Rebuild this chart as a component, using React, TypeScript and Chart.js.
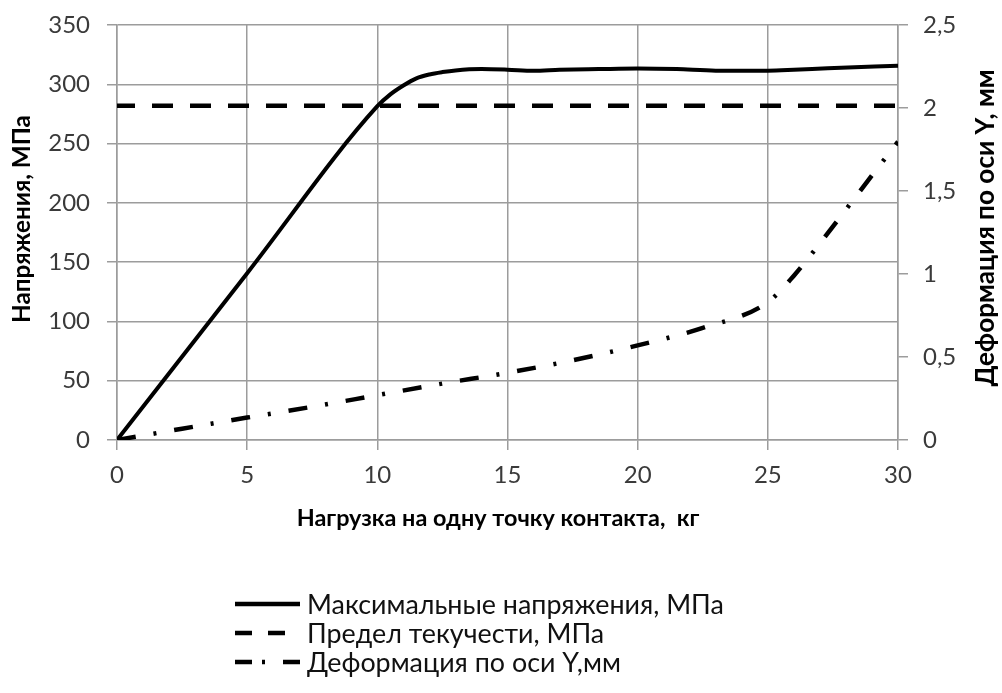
import React, { useEffect, useRef } from "react";
import { Chart, registerables } from "chart.js";

Chart.register(...registerables);

// ---- Data ----
const stressX = [0, 5, 10, 10.5, 11, 11.5, 12, 12.5, 13, 14, 15, 16, 17, 18.5, 20, 21.5, 23, 25, 26, 27.3, 30];
const stressY = [0, 140.7, 281.5, 291.5, 299, 305, 308.3, 310.3, 311.7, 312.8, 312.3, 311.4, 312.2, 312.8, 313.3, 312.8, 311.5, 311.5, 312.2, 313.5, 315.7];

const yieldX = [0, 30];
const yieldY = [282, 282];

const deformX = [0, 2.5, 5, 7.5, 10, 12.5, 15, 17.5, 20, 22.5, 25, 26, 27.2, 28.6, 30];
const deformY = [0, 0.068, 0.135, 0.2, 0.27, 0.34, 0.405, 0.48, 0.57, 0.675, 0.83, 0.99, 1.225, 1.512, 1.797];

const seriesNames = [
  "Максимальные напряжения, МПа",
  "Предел текучести, МПа",
  "Деформация по оси Y,мм",
];
const xTitle = "Нагрузка на одну точку контакта,  кг";
const yTitle = "Напряжения, МПа";
const y1Title = "Деформация по оси Y, мм";

const toPoints = (xs: number[], ys: number[]) => xs.map((x, i) => ({ x, y: ys[i] }));

const FONT = "Lato, 'Open Sans', sans-serif";
const GRID = "#9c9c9c";
const TICK_COLOR = "#3a3a3a";

const textPlugin = {
  id: "customText",
  afterDraw(chart: any) {
    const ctx: CanvasRenderingContext2D = chart.ctx;
    const fit = (text: string, weight: string, target: number) => {
      ctx.font = `${weight} 20px ${FONT}`;
      const w = ctx.measureText(text).width;
      return (20 * target) / w;
    };
    ctx.save();
    ctx.fillStyle = "#000";
    ctx.textAlign = "center";
    ctx.textBaseline = "middle";

    // x title
    let fs = fit(xTitle, "bold", 403);
    ctx.font = `bold ${fs}px ${FONT}`;
    ctx.fillText(xTitle, 498, 518);

    // left title
    fs = fit(yTitle, "bold", 208);
    ctx.save();
    ctx.translate(22, 219);
    ctx.rotate(-Math.PI / 2);
    ctx.font = `bold ${fs}px ${FONT}`;
    ctx.fillText(yTitle, 0, 0);
    ctx.restore();

    // right title
    fs = fit(y1Title, "bold", 317);
    ctx.save();
    ctx.translate(986, 228);
    ctx.rotate(-Math.PI / 2);
    ctx.font = `bold ${fs}px ${FONT}`;
    ctx.fillText(y1Title, 0, 0);
    ctx.restore();

    // legend
    const rows = [604, 633, 662];
    const lfs = fit(seriesNames[0], "normal", 417);
    ctx.textAlign = "left";
    ctx.font = `normal ${lfs}px ${FONT}`;
    seriesNames.forEach((name, i) => {
      ctx.fillStyle = "#111";
      ctx.fillText(name, 307, rows[i] + 1);
    });
    ctx.strokeStyle = "#000";
    ctx.lineWidth = 4.5;
    ctx.lineCap = "butt";
    ctx.setLineDash([]);
    ctx.beginPath();
    ctx.moveTo(235, rows[0]);
    ctx.lineTo(300, rows[0]);
    ctx.stroke();
    ctx.setLineDash([17, 16]);
    ctx.beginPath();
    ctx.moveTo(235, rows[1]);
    ctx.lineTo(285, rows[1]);
    ctx.stroke();
    ctx.setLineDash([17, 10, 3, 18]);
    ctx.beginPath();
    ctx.moveTo(235, rows[2]);
    ctx.lineTo(300, rows[2]);
    ctx.stroke();
    ctx.restore();
  },
};

export default function App() {
  const ref = useRef<HTMLCanvasElement | null>(null);

  useEffect(() => {
    document.body.style.margin = "0";
    const canvas = ref.current;
    if (!canvas) return;
    const chart = new Chart(canvas, {
      type: "line",
      data: {
        datasets: [
          {
            label: seriesNames[0],
            data: toPoints(stressX, stressY),
            borderColor: "#000",
            borderWidth: 4,
            pointRadius: 0,
            cubicInterpolationMode: "monotone",
            yAxisID: "y",
          },
          {
            label: seriesNames[1],
            data: toPoints(yieldX, yieldY),
            borderColor: "#000",
            borderWidth: 4.5,
            borderDash: [21, 17],
            borderDashOffset: 3,
            pointRadius: 0,
            yAxisID: "y",
          },
          {
            label: seriesNames[2],
            data: toPoints(deformX, deformY),
            borderColor: "#000",
            borderWidth: 4.5,
            borderDash: [19, 18, 3, 18],
            pointRadius: 0,
            cubicInterpolationMode: "monotone",
            yAxisID: "y1",
          },
        ],
      },
      options: {
        responsive: false,
        animation: false,
        layout: { padding: { top: 25, left: 0, right: 0, bottom: 0 } },
        plugins: {
          legend: { display: false },
          tooltip: { enabled: false },
        },
        scales: {
          x: {
            type: "linear",
            min: 0,
            max: 30,
            afterFit: (s: any) => {
              s.height = 253;
              s.paddingLeft = 0;
              s.paddingRight = 0;
            },
            ticks: {
              stepSize: 5,
              color: TICK_COLOR,
              padding: 11,
              font: { family: FONT, size: 24 },
            },
            grid: { color: GRID, lineWidth: 1.5, tickLength: 10 },
            border: { color: GRID, width: 1.5 },
          },
          y: {
            position: "left",
            min: 0,
            max: 350,
            afterFit: (s: any) => {
              s.width = 117;
              s.paddingTop = 0;
              s.paddingBottom = 0;
            },
            ticks: {
              stepSize: 50,
              color: TICK_COLOR,
              padding: 17,
              font: { family: FONT, size: 24 },
            },
            grid: { color: GRID, lineWidth: 1.5, tickLength: 10 },
            border: { color: GRID, width: 1.5 },
          },
          y1: {
            position: "right",
            min: 0,
            max: 2.5,
            afterFit: (s: any) => {
              s.width = 104;
              s.paddingTop = 0;
              s.paddingBottom = 0;
            },
            ticks: {
              stepSize: 0.5,
              color: TICK_COLOR,
              padding: 15,
              font: { family: FONT, size: 24 },
              callback: (v: any) => String(v).replace(".", ","),
            },
            grid: { drawOnChartArea: false, color: GRID, lineWidth: 1.5, tickLength: 10 },
            border: { color: GRID, width: 1.5 },
          },
        },
      },
      plugins: [textPlugin],
    });
    return () => chart.destroy();
  }, []);

  return (
    <div style={{ width: 1002, height: 693, background: "#fff" }}>
      <canvas ref={ref} width={1002} height={693} />
    </div>
  );
}
